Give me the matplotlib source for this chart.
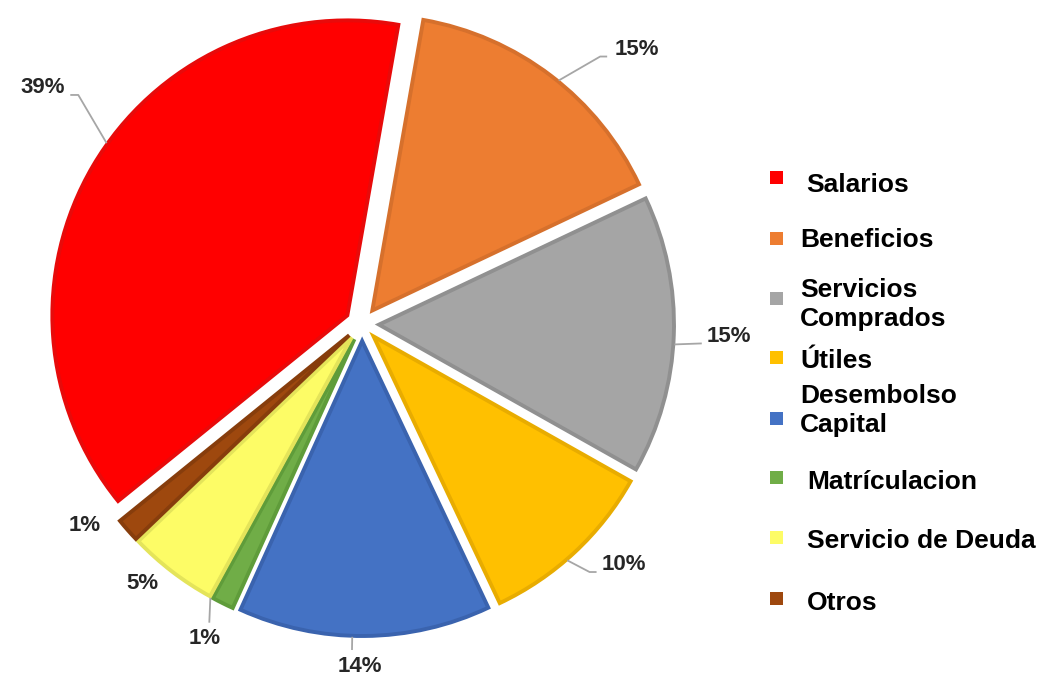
import numpy as np
import matplotlib
matplotlib.use("Agg")
import matplotlib.pyplot as plt
from matplotlib.patches import Rectangle

# ---------------- data ----------------
categories = ["Salarios", "Beneficios", "Servicios\nComprados", "Útiles",
              "Desembolso\nCapital", "Matrículacion", "Servicio de Deuda", "Otros"]
shares = [38.6, 15.2, 15.2, 9.8, 13.8, 1.2, 4.9, 1.3]

# ---------------- style ----------------
colors = ["#FF0000", "#ED7D31", "#A5A5A5", "#FFC000",
          "#4472C4", "#70AD47", "#FDFC66", "#9E480E"]
edge_colors = ["#E80A0A", "#D6702C", "#909090", "#E8AC00",
               "#3A63AE", "#5F9C3A", "#E4E45A", "#873D0C"]

plt.rcParams['font.family'] = ['Liberation Sans', 'DejaVu Sans']

W, H = 1063, 677
fig = plt.figure(figsize=(W / 100, H / 100), dpi=100)
ax = fig.add_axes([0, 0, 1, 1])

cx, cy = 362, H - 324
R = 295
explode_px = 17

wedges, _ = ax.pie(shares, colors=colors, startangle=219, counterclock=False,
                   radius=R, center=(cx, cy), explode=[explode_px] * len(shares),
                   wedgeprops=dict(linewidth=2.8))
for w, ec in zip(wedges, edge_colors):
    w.set_edgecolor(ec)

ax.set_xlim(0, W)
ax.set_ylim(0, H)
ax.set_aspect('auto')
ax.axis('off')

# ---------------- labels with leader lines ----------------
# (label angle offset from mid-angle, label radius, rim angle offset, leader offsets relative to label)
label_layout = [
    (-6.0, 397, -5.1, [(35.5, -7), (27.5, -7)]),
    (-7.7, 389, -1.7, [(-37, -7.5), (-30, -7.5)]),
    (0.1, 367, -1.8, [(-27, -7)]),
    (4.5, 355, -2.1, [(-34, -8), (-27, -8)]),
    (-0.9, 343, -2.4, [(-7.5, 17)]),
    (-0.1, 352, -2.6, [(5, 16)]),
    (-2.8, 340, None, []),
    (-5.4, 343, None, []),
]
line_color = "#A6A6A6"
for w, v, (dth, rl, rim_off, pts) in zip(wedges, shares, label_layout):
    mid = 0.5 * (w.theta1 + w.theta2)
    a = np.deg2rad(mid + dth)
    lx, ly = cx + rl * np.cos(a), cy + rl * np.sin(a)
    ax.text(lx, ly, f"{v:.0f}%", ha='center', va='center', fontsize=16,
            fontweight='bold', color='#262626')
    if rim_off is not None:
        wcx, wcy = w.center
        b = np.deg2rad(mid + rim_off)
        xs = [wcx + (R + 1) * np.cos(b)]
        ys = [wcy + (R + 1) * np.sin(b)]
        for dx, dy in pts:
            xs.append(lx + dx)
            ys.append(ly + dy)
        ax.plot(xs, ys, color=line_color, lw=1.3, solid_capstyle='butt')

# ---------------- legend ----------------
marker_y = [177, 238, 298, 357, 418, 477, 537, 598]
text_x = [806, 800, 800, 800, 800, 807, 807, 807]
text_base = [192, 247, 326, 368, 432, 489, 548, 610]   # baseline of last line
for cat, col, my, tx, tb in zip(categories, colors, marker_y, text_x, text_base):
    ax.add_patch(Rectangle((770, H - my - 6.5), 13, 13, facecolor=col,
                           edgecolor='none'))
    ax.text(tx, H - tb, cat, ha='left', va='baseline', fontsize=19,
            fontweight='bold', color='black', linespacing=1.24)

fig.savefig("out.png", dpi=100)
